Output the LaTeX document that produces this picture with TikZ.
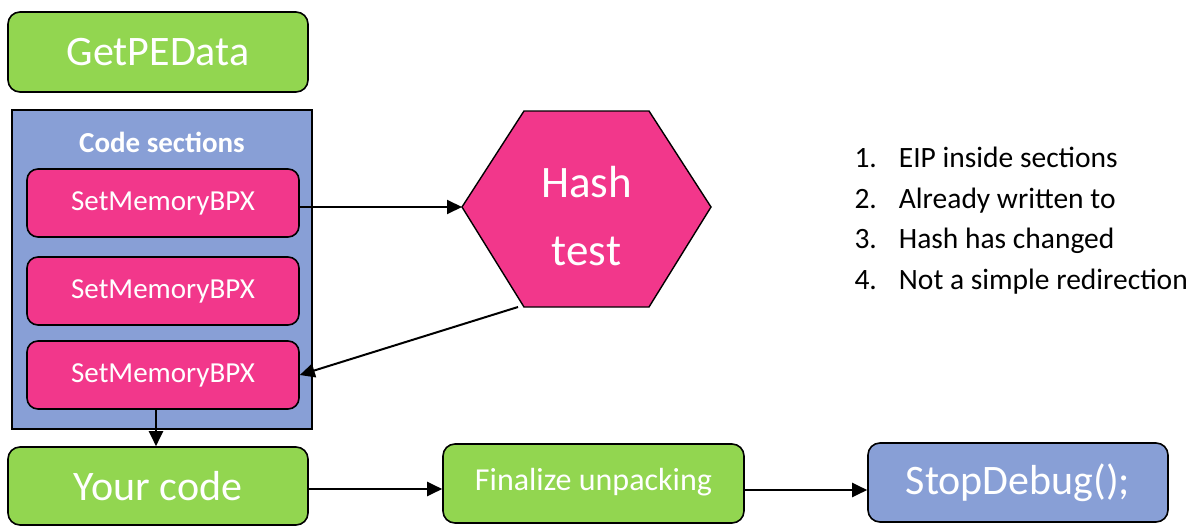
\documentclass[tikz,border=0pt]{standalone}
\usepackage{fontspec}
\setmainfont{Carlito}
\usetikzlibrary{arrows.meta}
\definecolor{boxgreen}{HTML}{92D650}
\definecolor{boxpink}{HTML}{F2378B}
\definecolor{boxblue}{HTML}{889FD6}
\tikzset{
  box/.style={draw=black, line width=1.6pt, rounded corners=12pt, text=white, inner sep=0pt},
  bpx/.style={box, fill=boxpink, minimum width=272pt, minimum height=68pt, rounded corners=11pt, font=\fontsize{29}{34}\selectfont},
  big/.style={font=\fontsize{42}{50}\selectfont},
  arr/.style={line width=2pt, -{Triangle[length=15pt,width=14pt]}}
}
\begin{document}
\begin{tikzpicture}[x=1pt,y=-1pt]
    \useasboundingbox (0,0) rectangle (1195,527);
    % left column
    \node[box, big, fill=boxgreen, minimum width=300pt, minimum height=80pt](getpe) at (158,52){GetPEData};
    \node[draw=black, line width=1.6pt, fill=boxblue, minimum width=300pt, minimum height=319pt](sections) at (162,269.5){};
    \node[text=white, font=\bfseries\fontsize{29}{34}\selectfont](title) at (162,142){Code sections};
    \node[bpx](bpxa) at (163,203){SetMemoryBPX};
    \node[bpx](bpxb) at (163,291){SetMemoryBPX};
    \node[bpx](bpxc) at (163,375){SetMemoryBPX};
    % hash test
    \coordinate(hl) at (462,207);
    \coordinate(htl) at (524,111);
    \coordinate(htr) at (649,111);
    \coordinate(hr) at (711,207);
    \coordinate(hbr) at (649,307);
    \coordinate(hbl) at (524,307);
    \coordinate(hout) at (518,307);
    \draw[fill=boxpink, line width=1.4pt](hl)--(htl)--(htr)--(hr)--(hbr)--(hbl)--cycle;
    \node[text=white, align=center, font=\fontsize{45}{68}\selectfont](hash) at (586.5,216){Hash\\test};
    % bottom row
    \node[box, big, fill=boxgreen, minimum width=300pt, minimum height=78pt](yours) at (158,486){Your code};
    \node[box, fill=boxgreen, minimum width=301pt, minimum height=79pt, font=\fontsize{32}{36}\selectfont](final) at (593.5,483.5){\raisebox{8pt}{Finalize unpacking}};
    \node[box, big, fill=boxblue, minimum width=300pt, minimum height=79pt](stop) at (1018,482.5){StopDebug();};
    % list
    \node[anchor=base west, font=\fontsize{29.5}{40.5}\selectfont, align=left](list) at (851,289){%
      1.\hspace{22pt}EIP inside sections\\
      2.\hspace{22pt}Already written to\\
      3.\hspace{22pt}Hash has changed\\
      4.\hspace{22pt}Not a simple redirection};
    % connectors
    \draw[arr](bpxa.east|-hl)--(hl);
    \draw[arr](hout)--(bpxc.east);
    \draw[arr]([xshift=-7pt]bpxc.south)--([xshift=-7pt]bpxc.south|-yours.north);
    \draw[arr](yours.east|-0,489)--(final.west|-0,489);
    \draw[arr](final.east|-0,490)--(stop.west|-0,490);
\end{tikzpicture}
\end{document}
